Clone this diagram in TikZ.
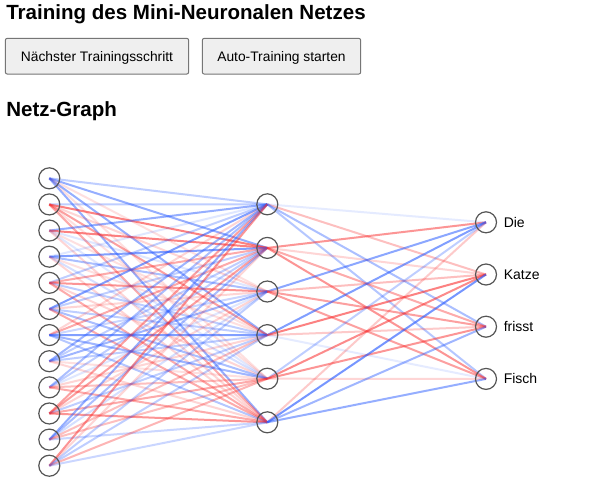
\documentclass[tikz,border=0pt]{standalone}
\usepackage{fontspec}
\setmainfont{Liberation Sans}
\usetikzlibrary{backgrounds}
\definecolor{netred}{RGB}{250,45,45}
\definecolor{netblue}{RGB}{45,95,255}
\colorlet{wr}{netred}
\colorlet{wb}{netblue}
\definecolor{circ}{HTML}{555555}
\definecolor{btnfill}{HTML}{EFEFEF}
\definecolor{btnline}{HTML}{767676}
\tikzset{
  neuron/.style={circle, draw=circ, line width=0.9pt, minimum size=15.75pt, inner sep=0pt},
  wline/.style={line width=1.5pt},
  btn/.style={draw=btnline, fill=btnfill, rounded corners=1.5pt, line width=0.75pt,
    minimum height=26.8pt, inner sep=0pt,
    font=\fontsize{10.35pt}{12pt}\selectfont, text height=7.4pt, text depth=0pt},
  heading/.style={anchor=base west, inner sep=0pt, font=\fontsize{15.4pt}{18pt}\selectfont\bfseries},
  outlabel/.style={anchor=base west, inner sep=0pt, font=\fontsize{10.5pt}{12pt}\selectfont}
}
\begin{document}
\begin{tikzpicture}[x=0.75pt,y=-0.75pt]
\useasboundingbox (0,0) rectangle (598,500);
% headings and buttons
\node[heading] (title) at (6,19) {Training des Mini-Neuronalen Netzes};
\node[btn, minimum width=137.5pt] (b1) at (97,56.2) {Nächster Trainingsschritt};
\node[btn, minimum width=118.8pt] (b2) at (281.5,56.2) {Auto-Training starten};
\node[heading] (graph) at (6,116.7) {Netz-Graph};
% neurons
\foreach \k in {0,...,11} \node[neuron] (i\k) at (49.3,{178.3+26.13*\k}) {};
\foreach \k in {0,...,5} \node[neuron] (h\k) at (267.3,{204.3+43.6*\k}) {};
\foreach \k/\t in {0/Die,1/Katze,2/frisst,3/Fisch} {
  \node[neuron] (o\k) at (486,{222.3+52.2*\k}) {};
  \node[outlabel] (l\k) at (503.5,{227.3+52.2*\k}) {\t};
}
\begin{scope}[on background layer]
\fill[white] (0,0) rectangle (598,500);
\foreach \a/\b/\c/\o in {
 0/0/wb/.3, 0/1/wb/.5, 0/2/wr/.15, 0/3/wb/.5, 0/4/wr/.15, 0/5/wb/.5,
 1/0/wb/.3, 1/1/wr/.6, 1/2/wr/.2, 1/3/wr/.45, 1/4/wr/.15, 1/5/wr/.4,
 2/0/wb/.5, 2/1/wr/.6, 2/2/wb/.15, 2/3/wr/.15, 2/4/wb/.15, 2/5/wr/.2,
 3/0/wb/.15, 3/1/wb/.6, 3/2/wb/.4, 3/3/wr/.15, 3/4/wb/.2, 3/5/wr/.2,
 4/0/wb/.3, 4/1/wr/.4, 4/2/wr/.5, 4/3/wb/.3, 4/4/wr/.2, 4/5/wr/.4,
 5/0/wb/.6, 5/1/wb/.3, 5/2/wr/.2, 5/3/wb/.3, 5/4/wb/.4, 5/5/wr/.4,
 6/0/wr/.2, 6/1/wr/.4, 6/2/wb/.25, 6/3/wb/.6, 6/4/wb/.45, 6/5/wb/.35,
 7/0/wb/.45, 7/1/wb/.3, 7/2/wb/.45, 7/3/wb/.3, 7/4/wr/.15, 7/5/wr/.2,
 8/0/wb/.4, 8/1/wb/.3, 8/2/wb/.15, 8/3/wr/.2, 8/4/wr/.3, 8/5/wr/.4,
 9/0/wr/.45, 9/1/wr/.45, 9/2/wr/.2, 9/3/wb/.3, 9/4/wr/.4, 9/5/wr/.5,
 10/0/wb/.5, 10/1/wb/.4, 10/2/wb/.2, 10/3/wr/.3, 10/4/wr/.3, 10/5/wb/.25,
 11/0/wr/.5, 11/1/wr/.2, 11/2/wb/.3, 11/3/wb/.3, 11/4/wr/.35, 11/5/wb/.25}
  \draw[wline, draw=\c, draw opacity=\o] (i\a.center) -- (h\b.center);
\foreach \a/\b/\c/\o in {
 0/0/wb/.12, 0/1/wr/.3, 0/2/wb/.4, 0/3/wb/.35,
 1/0/wr/.5, 1/1/wr/.2, 1/2/wr/.4, 1/3/wr/.5,
 2/0/wb/.55, 2/1/wr/.3, 2/2/wr/.45, 2/3/wr/.45,
 3/0/wb/.6, 3/1/wr/.6, 3/2/wr/.25, 3/3/wb/.12,
 4/0/wb/.3, 4/1/wr/.55, 4/2/wr/.5, 4/3/wr/.2,
 5/0/wr/.25, 5/1/wb/.65, 5/2/wb/.45, 5/3/wb/.5}
  \draw[wline, draw=\c, draw opacity=\o] (h\a.center) -- (o\b.center);
\end{scope}
\end{tikzpicture}
\end{document}
